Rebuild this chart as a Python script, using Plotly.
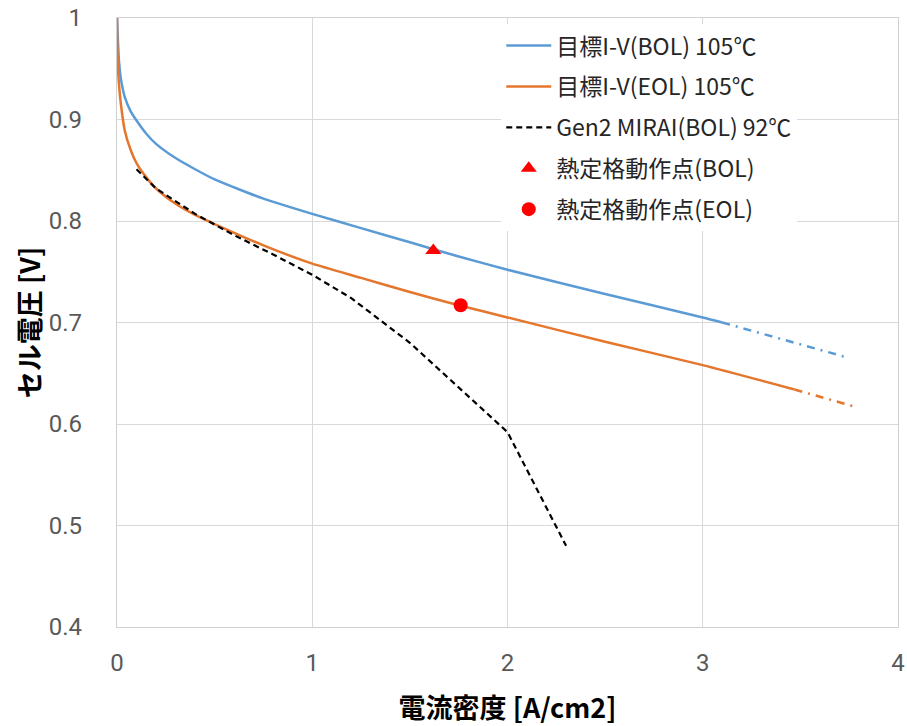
import plotly.graph_objects as go

# --- data ---
bol_j = [0, 0.003, 0.01, 0.02, 0.04, 0.07, 0.1, 0.15, 0.2, 0.3, 0.4, 0.5, 0.75,
         1.0, 1.25, 1.5, 1.75, 2.0, 2.5, 3.0, 3.1]
bol_v = [1.0, 0.985, 0.958, 0.940, 0.922, 0.908, 0.899, 0.886, 0.876, 0.862, 0.851,
         0.841, 0.822, 0.807, 0.793, 0.779, 0.765, 0.752, 0.728, 0.705, 0.700]
bol_ext_j = [3.1, 3.4, 3.75]
bol_ext_v = [0.700, 0.684, 0.665]

eol_j = [0, 0.003, 0.01, 0.02, 0.04, 0.07, 0.1, 0.15, 0.2, 0.3, 0.4, 0.5, 0.75,
         1.0, 1.25, 1.5, 1.75, 2.0, 2.5, 3.0, 3.47]
eol_v = [1.0, 0.960, 0.935, 0.915, 0.889, 0.870, 0.857, 0.843, 0.832, 0.817, 0.806,
         0.797, 0.776, 0.758, 0.744, 0.730, 0.717, 0.705, 0.681, 0.658, 0.634]
eol_ext_j = [3.47, 3.6, 3.78]
eol_ext_v = [0.634, 0.627, 0.617]

gen2_j = [0.1, 0.2, 0.4, 0.6, 0.8, 1.0, 1.2, 1.5, 2.0, 2.3]
gen2_v = [0.851, 0.832, 0.807, 0.786, 0.767, 0.747, 0.724, 0.680, 0.592, 0.480]

op_bol_j = [1.62]
op_bol_v = [0.771]
op_eol_j = [1.76]
op_eol_v = [0.717]

names = ["目標I-V(BOL) 105℃", "目標I-V(EOL) 105℃", "Gen2 MIRAI(BOL) 92℃",
         "熱定格動作点(BOL)", "熱定格動作点(EOL)"]
x_ticks = [0, 1, 2, 3, 4]
y_ticks = [0.4, 0.5, 0.6, 0.7, 0.8, 0.9, 1.0]
y_ticktext = ["0.4", "0.5", "0.6", "0.7", "0.8", "0.9", "1"]

BLUE = "#5B9BD5"
ORANGE = "#E5762D"
EXT_DASH = "8px,6px,2px,6px"

fig = go.Figure()
fig.add_trace(go.Scatter(x=bol_j, y=bol_v, mode="lines", name=names[0],
                         line=dict(color=BLUE, width=2.5, shape="spline", smoothing=0.6),
                         legendgroup="a", legendrank=1))
fig.add_trace(go.Scatter(x=bol_ext_j, y=bol_ext_v, mode="lines", showlegend=False,
                         line=dict(color=BLUE, width=2.5, dash=EXT_DASH)))
fig.add_trace(go.Scatter(x=eol_j, y=eol_v, mode="lines", name=names[1],
                         line=dict(color=ORANGE, width=2.5, shape="spline", smoothing=0.6),
                         legendgroup="b", legendrank=2))
fig.add_trace(go.Scatter(x=eol_ext_j, y=eol_ext_v, mode="lines", showlegend=False,
                         line=dict(color=ORANGE, width=2.5, dash=EXT_DASH)))
fig.add_trace(go.Scatter(x=gen2_j, y=gen2_v, mode="lines", name=names[2],
                         line=dict(color="black", width=2.2, dash="6px,4px"),
                         legendgroup="c", legendrank=3))
fig.add_trace(go.Scatter(x=op_bol_j, y=op_bol_v, mode="markers", name=names[3],
                         marker=dict(symbol="triangle-up", size=14, color="#FF0000"),
                         legendgroup="d", legendrank=4))
fig.add_trace(go.Scatter(x=op_eol_j, y=op_eol_v, mode="markers", name=names[4],
                         marker=dict(symbol="circle", size=14, color="#FF0000"),
                         legendgroup="e", legendrank=5))

tick_font = dict(family="Roboto, Liberation Sans, sans-serif", size=24, color="#595959")
title_font = dict(family="Noto Sans CJK JP, sans-serif", size=27, color="black")

fig.update_layout(
    width=907, height=726,
    margin=dict(l=117, r=9, t=18, b=99, autoexpand=False),
    paper_bgcolor="white", plot_bgcolor="white",
    font=dict(family="Noto Sans CJK JP, sans-serif"),
    showlegend=True,
    legend=dict(x=0.492, y=0.99, xanchor="left", yanchor="top",
                bgcolor="white", borderwidth=0, tracegroupgap=8,
                itemwidth=45,
                font=dict(family="Noto Sans CJK JP, sans-serif", size=23, color="#262626")),
    xaxis=dict(range=[0, 4], tickvals=x_ticks, showgrid=True, gridcolor="#D9D9D9",
               gridwidth=1.3, showline=True, mirror=True, linecolor="#D0D0D0", linewidth=1.3,
               zeroline=False, ticks="", ticklabelstandoff=14, tickfont=tick_font,
               automargin=False, ticklabeloverflow="allow",
               title=dict(text="<b>電流密度 [A/cm2]</b>", font=title_font, standoff=25)),
    yaxis=dict(range=[0.4, 1.0], tickvals=y_ticks, ticktext=y_ticktext, showgrid=True,
               gridcolor="#D9D9D9", gridwidth=1.3, showline=True, mirror=True,
               linecolor="#D0D0D0", linewidth=1.3, zeroline=False, ticks="",
               ticklabelstandoff=29, tickfont=tick_font, automargin=False,
               ticklabeloverflow="allow",
               title=dict(text="<b>セル電圧 [V]</b>", font=title_font, standoff=0)),
)

# remove the default page margin so the 907x726 figure fills the window exactly
fig.write_html("out.html",
               config={"displayModeBar": False},
               post_script="document.body.style.margin='0';"
                           "document.body.style.overflow='hidden';")
